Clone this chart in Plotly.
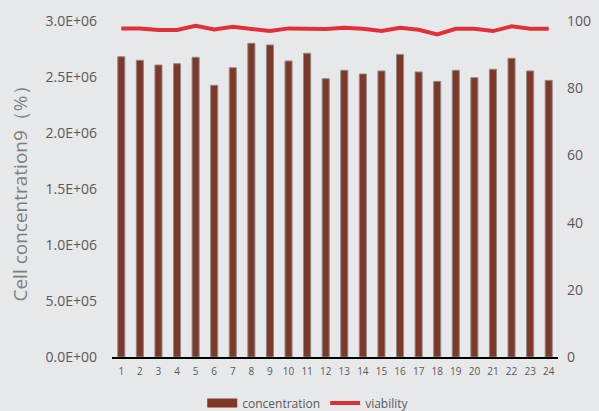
import plotly.graph_objects as go

categories = [str(i) for i in range(1, 25)]
concentration = [2.681e6, 2.649e6, 2.607e6, 2.619e6, 2.676e6, 2.426e6, 2.583e6, 2.801e6,
                 2.786e6, 2.643e6, 2.712e6, 2.485e6, 2.560e6, 2.527e6, 2.554e6, 2.702e6,
                 2.545e6, 2.461e6, 2.560e6, 2.494e6, 2.569e6, 2.667e6, 2.554e6, 2.470e6]
viability = [97.8, 97.8, 97.3, 97.3, 98.6, 97.5, 98.3, 97.7, 97.0, 97.8, 97.6, 97.6,
             98.0, 97.7, 97.0, 98.0, 97.4, 96.0, 97.7, 97.7, 97.0, 98.4, 97.7, 97.7]
left_ticks = [0, 5e5, 1e6, 1.5e6, 2e6, 2.5e6, 3e6]
left_labels = ["0.0E+00", "5.0E+05", "1.0E+06", "1.5E+06", "2.0E+06", "2.5E+06", "3.0E+06"]
right_ticks = [0, 20, 40, 60, 80, 100]

BG = "#e7e8ea"
FONT = "Open Sans"
GREY = "#595959"
BAR = "#7f3726"

fig = go.Figure()
fig.add_trace(go.Bar(
    x=categories, y=concentration, name="concentration",
    marker=dict(color=BAR, line=dict(color="#8c8c8c", width=1)),
    yaxis="y", showlegend=False,
))
# legend-only entry with a wide rectangular swatch like the original
fig.add_trace(go.Scatter(
    x=[None], y=[None], name="concentration", mode="lines",
    line=dict(color=BAR, width=9), yaxis="y",
))
fig.add_trace(go.Scatter(
    x=categories, y=viability, name="viability", mode="lines",
    line=dict(color="#e0313b", width=4),
    yaxis="y2",
))

fig.update_layout(
    width=599, height=411,
    margin=dict(l=112, r=41, t=21, b=54, autoexpand=False),
    paper_bgcolor=BG, plot_bgcolor=BG,
    font=dict(family=FONT, color=GREY),
    bargap=0.62,
    showlegend=True,
    legend=dict(orientation="h", x=0.44, xanchor="center", y=-0.137, yanchor="middle",
                font=dict(size=12, color=GREY), bgcolor="rgba(0,0,0,0)",
                tracegroupgap=0),
    xaxis=dict(type="category", showgrid=False, showline=True, linecolor="#000000",
               linewidth=2, ticks="", tickfont=dict(size=10, color=GREY), zeroline=False,
               ticklabelstandoff=4),
    yaxis=dict(range=[0, 3e6], tickvals=left_ticks, ticktext=left_labels, showgrid=False,
               showline=False, zeroline=False, tickfont=dict(size=14, color=GREY),
               ticklabelstandoff=14,
               title=dict(text="Cell concentration9（%）", font=dict(size=19, color="#7f7f7f"),
                          standoff=12)),
    yaxis2=dict(range=[0, 100], tickvals=right_ticks, overlaying="y", side="right",
                showgrid=False, showline=False, zeroline=False,
                tickfont=dict(size=14, color=GREY), ticklabelstandoff=8),
)

fig.write_html("out.html")
